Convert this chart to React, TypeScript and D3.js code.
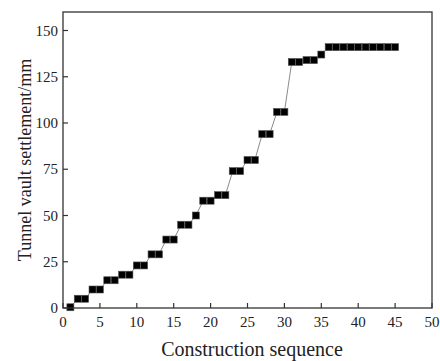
import React from "react";
import * as d3 from "d3";

const sequence = [
  1, 2, 3, 4, 5, 6, 7, 8, 9, 10, 11, 12, 13, 14, 15, 16, 17, 18, 19, 20, 21, 22, 23,
  24, 25, 26, 27, 28, 29, 30, 31, 32, 33, 34, 35, 36, 37, 38, 39, 40, 41, 42, 43, 44, 45,
];
const settlement = [
  0.4, 5, 5, 10, 10, 15, 15, 18, 18, 23, 23, 29, 29, 37, 37, 45, 45, 50, 58, 58, 61, 61, 74,
  74, 80, 80, 94, 94, 106, 106, 133, 133, 134, 134, 137, 141, 141, 141, 141, 141, 141, 141, 141, 141, 141,
];
const xTicks = [0, 5, 10, 15, 20, 25, 30, 35, 40, 45, 50];
const yTicks = [0, 25, 50, 75, 100, 125, 150];
const xTitle = "Construction sequence";
const yTitle = "Tunnel vault settlement/mm";

const W = 440;
const H = 361;
const left = 63;
const right = 432;
const top = 12;
const bottom = 308;
const font = "'Liberation Serif', 'Times New Roman', serif";

export default function App() {
  const x = d3.scaleLinear().domain([0, 50]).range([left, right]);
  const y = d3.scaleLinear().domain([0, 160]).range([bottom, top]);
  const pts = sequence.map((s, i) => [s, settlement[i]] as [number, number]);
  const line = d3
    .line<[number, number]>()
    .x((d) => x(d[0]))
    .y((d) => y(d[1]))(pts) as string;
  const ms = 7;
  return (
    <svg
      width={W}
      height={H}
      style={{ position: "absolute", left: 0, top: 0, background: "#fff" }}
    >
      <rect x={0} y={0} width={W} height={H} fill="#fff" />
      <path d={line} fill="none" stroke="#8a8a8a" strokeWidth={1} />
      {pts.map((d, i) => (
        <rect
          key={i}
          x={x(d[0]) - ms / 2}
          y={y(d[1]) - ms / 2}
          width={ms}
          height={ms}
          fill="#000"
          stroke="#555"
          strokeWidth={0.6}
        />
      ))}
      <rect
        x={left}
        y={top}
        width={right - left}
        height={bottom - top}
        fill="none"
        stroke="#333"
        strokeWidth={1.3}
      />
      {xTicks.map((t) => (
        <g key={"x" + t}>
          <line x1={x(t)} x2={x(t)} y1={bottom} y2={bottom - 5} stroke="#333" strokeWidth={1.2} />
          <text
            x={x(t)}
            y={bottom + 19}
            textAnchor="middle"
            fontFamily={font}
            fontSize={15}
            fill="#222"
          >
            {t}
          </text>
        </g>
      ))}
      {yTicks.map((t) => (
        <g key={"y" + t}>
          <line x1={left} x2={left + 5} y1={y(t)} y2={y(t)} stroke="#333" strokeWidth={1.2} />
          <text
            x={left - 5}
            y={y(t) + 5}
            textAnchor="end"
            fontFamily={font}
            fontSize={15}
            fill="#222"
          >
            {t}
          </text>
        </g>
      ))}
      <text
        x={252}
        y={356}
        textAnchor="middle"
        fontFamily={font}
        fontSize={20}
        fill="#222"
      >
        {xTitle}
      </text>
      <text
        transform={`translate(31, 160) rotate(-90)`}
        textAnchor="middle"
        fontFamily={font}
        fontSize={18}
        fill="#222"
      >
        {yTitle}
      </text>
    </svg>
  );
}
